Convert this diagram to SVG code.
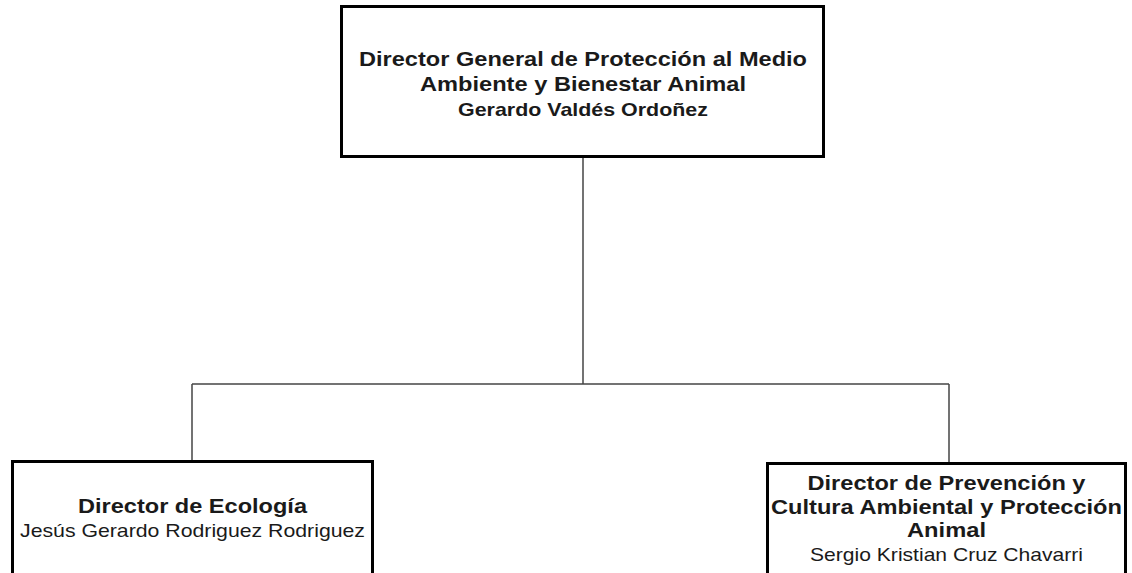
<svg xmlns="http://www.w3.org/2000/svg" width="1132" height="573" viewBox="0 0 1132 573">
<style>
.box{fill:#fff;stroke:#000;stroke-width:3}
.ln{stroke:#444;stroke-width:1.5;fill:none}
text{font-family:"Liberation Sans",Arial,sans-serif;fill:#1a1a1a;text-anchor:middle}
.b{font-weight:bold;font-size:21px}
.bs{font-weight:bold;font-size:19px}
.r{font-size:19px}
</style>
<rect width="1132" height="573" fill="#fff"/>
<g id="connectors">
<line class="ln" x1="583" y1="157" x2="583" y2="384"/>
<line class="ln" x1="192" y1="384" x2="949" y2="384"/>
<line class="ln" x1="192" y1="384" x2="192" y2="461"/>
<line class="ln" x1="949" y1="384" x2="949" y2="463"/>
</g>
<g id="director-general">
<rect class="box" x="341.5" y="6.5" width="482" height="150"/>
<text class="b" x="583" y="66" textLength="448" lengthAdjust="spacingAndGlyphs">Director General de Protección al Medio</text>
<text class="b" x="583" y="91" textLength="326" lengthAdjust="spacingAndGlyphs">Ambiente y Bienestar Animal</text>
<text class="bs" x="583" y="116" textLength="250" lengthAdjust="spacingAndGlyphs">Gerardo Valdés Ordoñez</text>
</g>
<g id="director-ecologia">
<rect class="box" x="12.5" y="461.5" width="360" height="120"/>
<text class="b" x="192.5" y="513" textLength="229" lengthAdjust="spacingAndGlyphs">Director de Ecología</text>
<text class="r" x="192.5" y="537" textLength="345" lengthAdjust="spacingAndGlyphs">Jesús Gerardo Rodriguez Rodriguez</text>
</g>
<g id="director-prevencion">
<rect class="box" x="767.5" y="463.5" width="358" height="120"/>
<text class="b" x="946.5" y="490" textLength="278" lengthAdjust="spacingAndGlyphs">Director de Prevención y</text>
<text class="b" x="946.5" y="514" textLength="351" lengthAdjust="spacingAndGlyphs">Cultura Ambiental y Protección</text>
<text class="b" x="946.5" y="537" textLength="79" lengthAdjust="spacingAndGlyphs">Animal</text>
<text class="r" x="946.5" y="561" textLength="273" lengthAdjust="spacingAndGlyphs">Sergio Kristian Cruz Chavarri</text>
</g>
</svg>
